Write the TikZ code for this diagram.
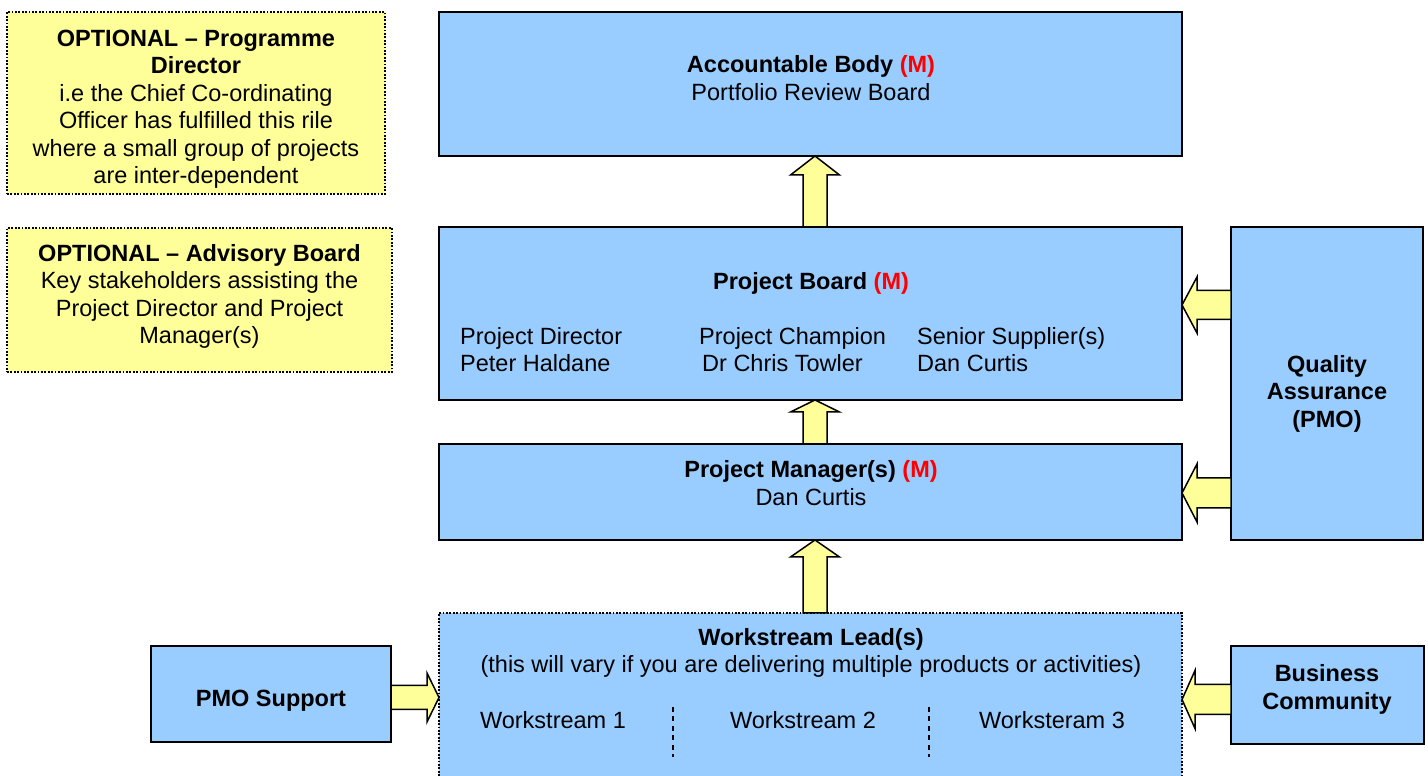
\documentclass[tikz,border=0pt]{standalone}
\usepackage{fontspec}
\setmainfont{Liberation Sans}
\usetikzlibrary{calc}
\definecolor{boxblue}{HTML}{99CCFF}
\definecolor{noteyellow}{HTML}{FFFF99}
\definecolor{mred}{HTML}{FF0000}
\tikzset{
  bluebox/.style={draw=black, line width=1.5pt, fill=boxblue, inner sep=0pt, outer sep=0pt},
  wsbox/.style={draw=black, line width=1.8pt, dash pattern=on 1.8pt off 1.6pt, fill=boxblue, inner sep=0pt, outer sep=0pt},
  notebox/.style={draw=black, line width=1.8pt, dash pattern=on 1.8pt off 1.6pt, fill=noteyellow, inner sep=0pt, outer sep=0pt},
  txt/.style={align=center, inner sep=0pt},
  fatarr/.style={draw=black, fill=noteyellow, line width=1.5pt, line join=miter},
  sepline/.style={draw=black, dash pattern=on 5pt off 4.5pt, line width=2pt}
}
% #1 from, #2 tip, #3 head length, #4 head half width, #5 shaft half width
\newcommand\myfatarrow[5]{%
  \coordinate (fa-h) at ($(#2)!#3!(#1)$);
  \filldraw[fatarr] ($(#1)!#5!90:(#2)$) -- ($(fa-h)!#5!90:(#2)$) -- ($(fa-h)!#4!90:(#2)$)
    -- (#2) -- ($(fa-h)!#4!-90:(#2)$) -- ($(fa-h)!#5!-90:(#2)$) -- ($(#1)!#5!-90:(#2)$) -- cycle;
}
\begin{document}
\begin{tikzpicture}[x=1pt, y=1pt, font=\fontsize{23.5}{27.5}\selectfont]
\useasboundingbox (0,0) rectangle (1428,776);
\fill[white] (0,0) rectangle (1428,776);

% boxes
\node[bluebox, minimum width=743pt, minimum height=144pt] (ab) at (810.5,692) {};
\node[bluebox, minimum width=743pt, minimum height=173pt] (pb) at (810.5,462.5) {};
\node[bluebox, minimum width=743pt, minimum height=96pt] (pm) at (810.5,284) {};
\node[wsbox, minimum width=743pt, minimum height=165pt] (ws) at (810.5,80.5) {};
\node[bluebox, minimum width=192pt, minimum height=313pt] (qa) at (1327,392.5) {};
\node[bluebox, minimum width=240pt, minimum height=96pt] (pmo) at (271,82) {};
\node[bluebox, minimum width=193pt, minimum height=98pt] (bc) at (1327.5,81) {};
\node[notebox, minimum width=378pt, minimum height=182pt] (n1) at (196,673) {};
\node[notebox, minimum width=385pt, minimum height=144pt] (n2) at (199.5,476) {};

% texts
\node[txt] (abt) at (811,698) {\textbf{Accountable Body \textcolor{mred}{(M)}}\\Portfolio Review Board};
\node[txt] (pbt) at (811,493) {\textbf{Project Board \textcolor{mred}{(M)}}};
\node[txt, anchor=west, align=left] (pbc1) at (460,426.5) {Project Director\\Peter Haldane};
\node[txt, anchor=west, align=left] (pbc2) at (699,426.5) {Project Champion\\\hspace{3pt}Dr Chris Towler};
\node[txt, anchor=west, align=left] (pbc3) at (917,426.5) {Senior Supplier(s)\\Dan Curtis};
\node[txt] (pmt) at (811,293) {\textbf{Project Manager(s) \textcolor{mred}{(M)}}\\Dan Curtis};
\node[txt] (wst) at (811,123) {\textbf{Workstream Lead(s)}\\(this will vary if you are delivering multiple products or activities)};
\node[txt] (ws1) at (553,56) {Workstream 1};
\node[txt] (ws2) at (803,56) {Workstream 2};
\node[txt] (ws3) at (1052,56) {Worksteram 3};
\node[txt] (qat) at (1327,382.5) {\textbf{Quality}\\\textbf{Assurance}\\\textbf{(PMO)}};
\node[txt] (pmot) at (271,75) {\textbf{PMO Support}};
\node[txt] (bct) at (1327,86.5) {\textbf{Business}\\\textbf{Community}};
\node[txt] (n1t) at (196,667) {\textbf{OPTIONAL -- Programme}\\\textbf{Director}\\i.e the Chief Co-ordinating\\Officer has fulfilled this rile\\where a small group of projects\\are inter-dependent};
\node[txt] (n2t) at (199.5,479.5) {\textbf{OPTIONAL -- Advisory Board}\\Key stakeholders assisting the\\Project Director and Project\\Manager(s)};

% separators
\coordinate (s1a) at (673,69); \coordinate (s1b) at (673,19);
\coordinate (s2a) at (929,69); \coordinate (s2b) at (929,19);
\draw[sepline] (s1a) -- (s1b);
\draw[sepline] (s2a) -- (s2b);

% arrows
\coordinate (u1a) at ($(pb.north)+(4.5,0)$); \coordinate (u1b) at ($(ab.south)+(4.5,0)$);
\myfatarrow{u1a}{u1b}{19pt}{24.5pt}{12pt}
\coordinate (u2a) at ($(pm.north)+(4.5,0)$); \coordinate (u2b) at ($(pb.south)+(4.5,0)$);
\myfatarrow{u2a}{u2b}{12pt}{24.5pt}{12pt}
\coordinate (u3a) at ($(ws.north)+(4.5,0)$); \coordinate (u3b) at ($(pm.south)+(4.5,0)$);
\myfatarrow{u3a}{u3b}{17pt}{24.5pt}{12pt}
\coordinate (l1a) at ($(qa.west)+(0,78.5)$); \coordinate (l1b) at (pb.east |- l1a);
\myfatarrow{l1a}{l1b}{15pt}{28pt}{14.5pt}
\coordinate (l2a) at ($(qa.west)+(0,-109.5)$); \coordinate (l2b) at (pm.east |- l2a);
\myfatarrow{l2a}{l2b}{15pt}{29pt}{15pt}
\coordinate (l3a) at ($(bc.west)+(0,-4.5)$); \coordinate (l3b) at (ws.east |- l3a);
\myfatarrow{l3a}{l3b}{13pt}{29pt}{15pt}
\coordinate (r1a) at ($(pmo.east)+(0,-3.5)$); \coordinate (r1b) at (ws.west |- r1a);
\myfatarrow{r1a}{r1b}{12pt}{24.5pt}{12pt}
\end{tikzpicture}
\end{document}
